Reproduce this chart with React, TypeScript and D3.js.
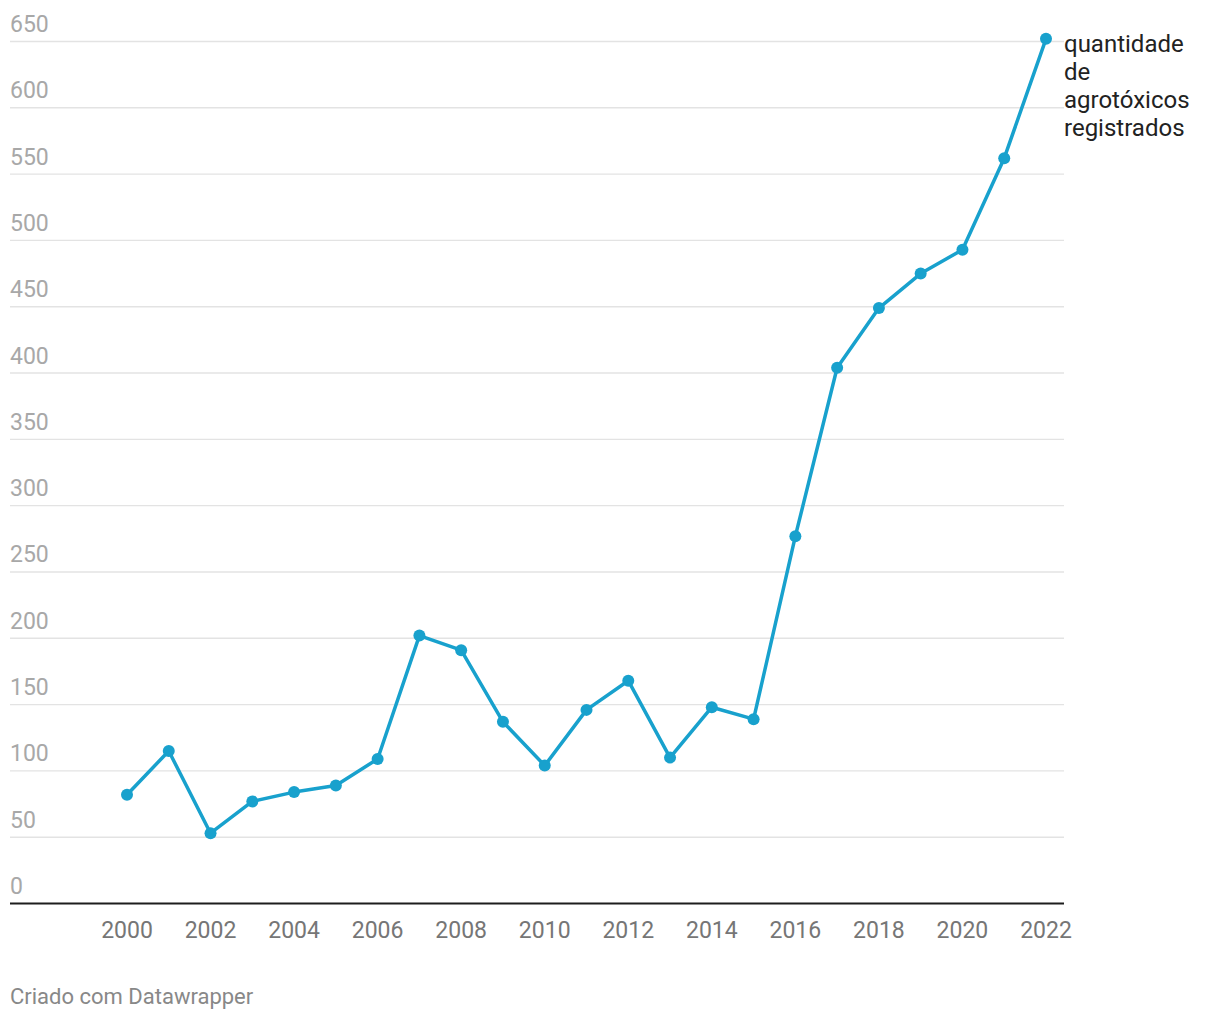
import React from "react";
import * as d3 from "d3";

const years = [2000, 2001, 2002, 2003, 2004, 2005, 2006, 2007, 2008, 2009, 2010, 2011, 2012, 2013, 2014, 2015, 2016, 2017, 2018, 2019, 2020, 2021, 2022];
const values = [82, 115, 53, 77, 84, 89, 109, 202, 191, 137, 104, 146, 168, 110, 148, 139, 277, 404, 449, 475, 493, 562, 652];
const yTicks = [0, 50, 100, 150, 200, 250, 300, 350, 400, 450, 500, 550, 600, 650];
const xTicks = [2000, 2002, 2004, 2006, 2008, 2010, 2012, 2014, 2016, 2018, 2020, 2022];
const labelLines = ["quantidade", "de", "agrotóxicos", "registrados"];
const footer = "Criado com Datawrapper";

export default function App() {
  const W = 1220, H = 1020;
  const x = d3.scaleLinear().domain([2000, 2022]).range([127, 1046]);
  const y = d3.scaleLinear().domain([0, 650]).range([903.5, 41.5]);
  const line = d3.line<number>().x((_, i) => x(years[i])).y((d) => y(d));
  const font = "Roboto, sans-serif";
  const color = "#18a1cd";
  const last = values.length - 1;
  return (
    <svg width={W} height={H} style={{ position: "absolute", left: 0, top: 0, background: "#fff" }} fontFamily={font}>
      {yTicks.map((t) => (
        <g key={t}>
          {t > 0 && <line x1={10} x2={1064} y1={y(t)} y2={y(t)} stroke="#e3e3e3" strokeWidth={1.4} />}
          <text x={10} y={y(t) - 9.5} fontSize={23} fill="#a8a8a8">{t}</text>
        </g>
      ))}
      <line x1={10} x2={1064} y1={y(0)} y2={y(0)} stroke="#1d1d1d" strokeWidth={2} />
      {xTicks.map((t) => (
        <text key={t} x={x(t)} y={938} fontSize={23} fill="#767676" textAnchor="middle">{t}</text>
      ))}
      <path d={line(values) || ""} fill="none" stroke={color} strokeWidth={3.5} strokeLinejoin="round" />
      {values.map((v, i) => (
        <circle key={i} cx={x(years[i])} cy={y(v)} r={6} fill={color} />
      ))}
      <text x={x(years[last]) + 18} y={y(values[last]) + 13.5} fontSize={24} fill="#222">
        {labelLines.map((l, i) => (
          <tspan key={i} x={x(years[last]) + 18} dy={i === 0 ? 0 : 28}>{l}</tspan>
        ))}
      </text>
      <text x={10} y={1004} fontSize={22} fill="#888">{footer}</text>
    </svg>
  );
}
